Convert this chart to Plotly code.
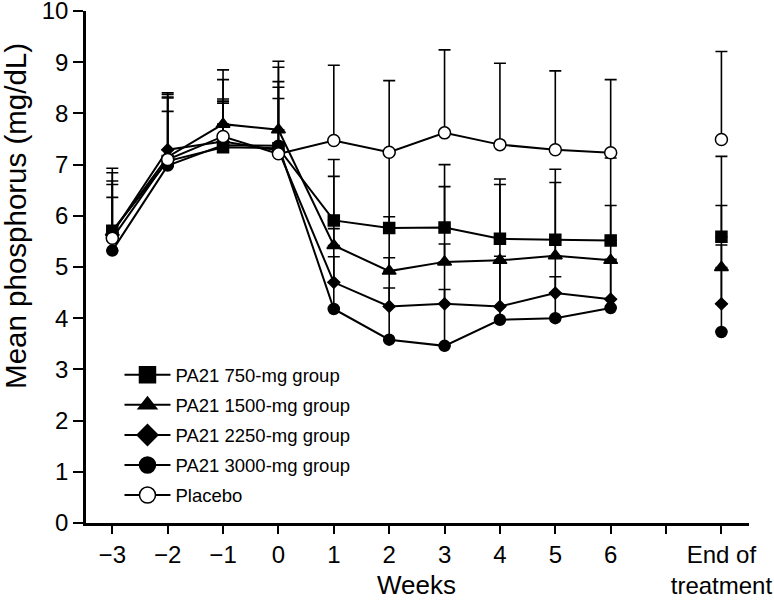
import plotly.graph_objects as go

# ---- data ----
week_labels = ["−3", "−2", "−1", "0", "1", "2", "3", "4", "5", "6"]
weeks = [-3, -2, -1, 0, 1, 2, 3, 4, 5, 6]
eot_pos = 8
eot_label = "End of<br>treatment"

groups = ["PA21 750-mg group", "PA21 1500-mg group", "PA21 2250-mg group",
          "PA21 3000-mg group", "Placebo"]

# mean values: weeks -3..6, then End of treatment
mean_750 = [5.71, 7.07, 7.34, 7.32, 5.91, 5.76, 5.77, 5.55, 5.53, 5.52, 5.59]
mean_1500 = [5.68, 7.15, 7.79, 7.68, 5.42, 4.92, 5.10, 5.13, 5.22, 5.13, 4.99]
mean_2250 = [5.66, 7.29, 7.45, 7.28, 4.70, 4.23, 4.28, 4.23, 4.49, 4.37, 4.28]
mean_3000 = [5.32, 6.98, 7.38, 7.37, 4.18, 3.58, 3.46, 3.97, 4.00, 4.20, 3.73]
mean_placebo = [5.56, 7.10, 7.55, 7.21, 7.47, 7.24, 7.62, 7.39, 7.29, 7.23, 7.49]

# upper end of error bar (mean + SD)
upper_750 = [6.93, 8.40, 8.24, 8.90, 7.10, 7.22, 7.00, 6.72, 6.91, 7.13, 7.16]
upper_1500 = [6.61, 8.37, 8.85, 9.02, 6.77, 5.98, 6.57, 6.61, 6.65, 6.20, 6.20]
upper_2250 = [6.68, 8.32, 8.28, 8.62, 5.75, 5.18, 5.45, 5.21, 5.50, 5.15, 5.43]
upper_3000 = [6.36, 8.04, 8.20, 8.51, 5.20, 4.59, 4.56, 5.12, 4.81, 5.10, 4.95]
upper_placebo = [6.84, 8.30, 8.66, 8.29, 8.94, 8.64, 9.24, 8.98, 8.83, 8.66, 9.21]

means = [mean_750, mean_1500, mean_2250, mean_3000, mean_placebo]
uppers = [upper_750, upper_1500, upper_2250, upper_3000, upper_placebo]

# ---- styles ----
symbols = ["square", "triangle-up", "diamond", "circle", "circle"]
sizes = [11, 12, 9, 11, 12]
fills = ["black", "black", "black", "black", "white"]
FONT = "Liberation Sans, Arial, sans-serif"

fig = go.Figure()

for name, m, u, sym, sz, fc in zip(groups, means, uppers, symbols, sizes, fills):
    sd = [uu - mm for uu, mm in zip(u, m)]
    err = dict(type="data", symmetric=False, array=sd[:10], arrayminus=[0] * 10,
               color="black", thickness=1.6, width=6)
    fig.add_trace(go.Scatter(
        x=weeks, y=m[:10], mode="lines+markers", showlegend=False,
        line=dict(color="black", width=2),
        marker=dict(symbol=sym, size=sz, color=fc, line=dict(color="black", width=1.5)),
        error_y=err, name=name))
    err2 = dict(type="data", symmetric=False, array=[sd[10]], arrayminus=[0],
                color="black", thickness=1.6, width=6)
    fig.add_trace(go.Scatter(
        x=[eot_pos], y=[m[10]], mode="markers", showlegend=False,
        marker=dict(symbol=sym, size=sz, color=fc, line=dict(color="black", width=1.5)),
        error_y=err2, name=name))

# legend entries
for i, (name, sym, fc) in enumerate(zip(groups, symbols, fills)):
    fig.add_trace(go.Scatter(
        x=[None], y=[None], mode="lines+markers", name=name, showlegend=True,
        legendgroup="g%d" % i,
        line=dict(color="black", width=2),
        marker=dict(symbol=sym, size=16, color=fc, line=dict(color="black", width=1.5))))

tickvals = weeks + [7, eot_pos]
ticktext = week_labels + ["", eot_label]

fig.update_layout(
    width=774, height=600,
    margin=dict(l=86, r=25, t=11, b=77, autoexpand=False),
    paper_bgcolor="white", plot_bgcolor="white",
    font=dict(family=FONT, color="black", size=24),
    showlegend=True,
    legend=dict(x=0.0505, y=0.3256, xanchor="left", yanchor="top",
                bgcolor="rgba(0,0,0,0)", font=dict(size=18.5, family=FONT),
                itemsizing="trace", itemwidth=46, tracegroupgap=3),
    xaxis=dict(range=[-3.475, 8.498], tickmode="array", tickvals=tickvals,
               ticktext=ticktext, showline=True, linecolor="black", linewidth=2.5,
               ticks="outside", ticklen=8, tickwidth=2, tickcolor="black",
               showgrid=False, zeroline=False, tickfont=dict(size=24), automargin=False),
    yaxis=dict(range=[0, 10], tickmode="array", tickvals=list(range(0, 11)),
               showline=True, linecolor="black", linewidth=2.5,
               ticks="outside", ticklen=10, tickwidth=2, tickcolor="black",
               showgrid=False, zeroline=False, tickfont=dict(size=24), automargin=False,
               ticklabeloverflow="allow"),
    annotations=[
        dict(text="Mean phosphorus (mg/dL)", textangle=-90,
             xref="paper", yref="paper", x=-0.1056, y=0.5998,
             xanchor="center", yanchor="middle", showarrow=False,
             font=dict(size=29.5, family=FONT, color="black")),
        dict(text="Weeks", xref="paper", yref="paper", x=0.499, y=-0.122,
             xanchor="center", yanchor="middle", showarrow=False,
             font=dict(size=26, family=FONT, color="black")),
    ],
)

fig.write_html("out.html", post_script="document.body.style.margin='0';",
               config={"displayModeBar": False})
